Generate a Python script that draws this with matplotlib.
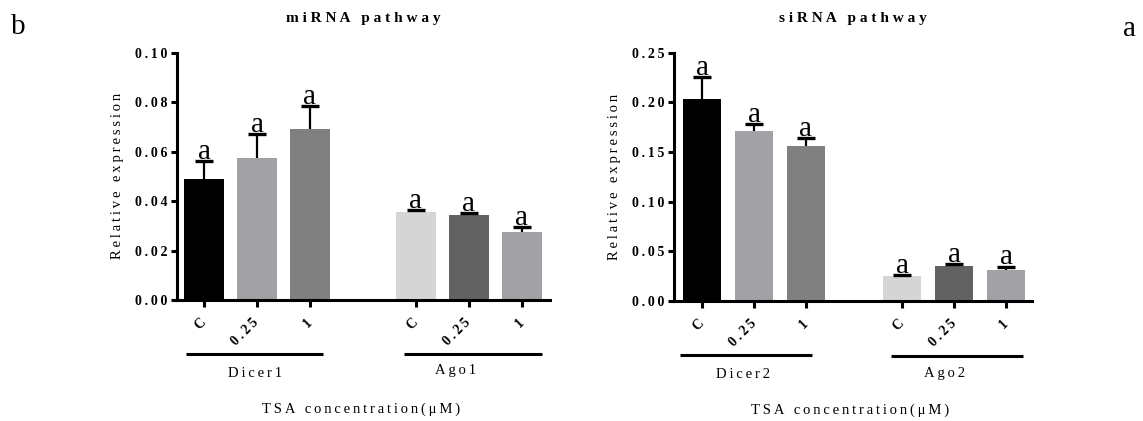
import matplotlib
matplotlib.use("Agg")
import matplotlib.pyplot as plt
from matplotlib.transforms import blended_transform_factory

plt.rcParams['font.family'] = ['Liberation Serif', 'DejaVu Serif']

# ---- data ----
conc_labels = ["C", "0.25", "1"]
genes_mi = ["Dicer1", "Ago1"]
genes_si = ["Dicer2", "Ago2"]
mi_means = [0.0488, 0.0575, 0.0690, 0.0357, 0.0344, 0.0274]
mi_err = [0.0075, 0.0095, 0.0093, 0.0007, 0.0007, 0.0022]
si_means = [0.2030, 0.1715, 0.1565, 0.0250, 0.0352, 0.0312]
si_err = [0.0225, 0.0070, 0.0080, 0.0012, 0.0018, 0.0035]
sig_letters = ["a", "a", "a", "a", "a", "a"]
bar_colors = ["#000000", "#a2a2a6", "#808080", "#d5d5d5", "#626262", "#a2a2a6"]
mi_yticks = [0.00, 0.02, 0.04, 0.06, 0.08, 0.10]
si_yticks = [0.00, 0.05, 0.10, 0.15, 0.20, 0.25]

TS = "\u2009"


def spaced(s, sep=TS):
    return sep.join(s)


fig = plt.figure(figsize=(11.43, 4.21), dpi=100)


def panel(rect, means, errs, positions, yticks, genes, title, xlim,
          glines, gx, gy):
    ax = fig.add_axes(rect)
    ax.bar(positions, means, width=0.74, color=bar_colors, zorder=2)
    eb = ax.errorbar(positions, means, yerr=[[0] * len(errs), errs], fmt='none',
                     ecolor='black', elinewidth=1.6, capsize=6.5, capthick=2.4,
                     zorder=3)
    caps = eb.lines[1]
    if len(caps) == 2:
        caps[0].set_visible(False)
    for x, m, e, s in zip(positions, means, errs, sig_letters):
        ax.annotate(s, (x, m + e), xytext=(0, 1.5), textcoords='offset points',
                    ha='center', va='baseline', fontsize=21,
                    family=['Liberation Serif'])
    ax.set_xlim(*xlim)
    ax.set_ylim(yticks[0], yticks[-1])
    ax.set_yticks(yticks)
    ax.set_yticklabels([TS.join(f"{t:.2f}") for t in yticks],
                       fontsize=10, fontweight='bold')
    ax.set_xticks(positions)
    ax.set_xticklabels([TS.join(c) for c in conc_labels] * 2, rotation=45,
                       ha='right', va='center', rotation_mode='anchor',
                       fontsize=10, fontweight='bold')
    ax.tick_params(axis='x', length=5, width=2.2, pad=10)
    ax.tick_params(axis='y', length=4, width=2.2, pad=3)
    for sp in ['top', 'right']:
        ax.spines[sp].set_visible(False)
    for sp in ['left', 'bottom']:
        ax.spines[sp].set_linewidth(2.2)
    ax.set_ylabel(spaced("Relative expression"), fontsize=10.5, labelpad=7.5)
    ax.set_title(" ".join("miRNA pathway" if title == 'mi' else "siRNA pathway"),
                 fontsize=11, fontweight='bold', pad=22)
    tr = blended_transform_factory(ax.transData, ax.transAxes)
    for (x0, x1), cx, cy, g, ly in zip(glines, gx, gy, genes, [-0.218, -0.22]):
        ax.plot([x0, x1], [ly, ly], color='black', lw=2.2, transform=tr,
                clip_on=False, solid_capstyle='butt')
        ax.text(cx, cy, spaced(g), transform=tr, ha='center', va='center',
                fontsize=10.5)
    ax.text(0.493, -0.44, spaced("TSA concentration(\u03bcM)"),
            transform=ax.transAxes, ha='center', va='center', fontsize=10.5)
    return ax


panel([177 / 1143, 1 - 300 / 421, 373 / 1143, 247.5 / 421],
      mi_means, mi_err, [0, 1, 2, 4, 5, 6], mi_yticks, genes_mi, 'mi',
      (-0.51, 6.53), [(-0.34, 2.245), (3.77, 6.38)], [0.96, 4.74],
      [-0.298, -0.286])
panel([674 / 1143, 1 - 301 / 421, 358 / 1143, 248.3 / 421],
      si_means, si_err, [0, 1, 2, 3.85, 4.85, 5.85], si_yticks, genes_si, 'si',
      (-0.54, 6.35), [(-0.42, 2.12), (3.63, 6.17)], [0.79, 4.67],
      [-0.298, -0.29])

fig.text(18 / 1143, 1 - 27 / 421, "b", fontsize=21, ha='center', va='center')
fig.text(1130 / 1143, 1 - 29 / 421, "a", fontsize=21, ha='center', va='center')

fig.savefig("out.png", dpi=100)
